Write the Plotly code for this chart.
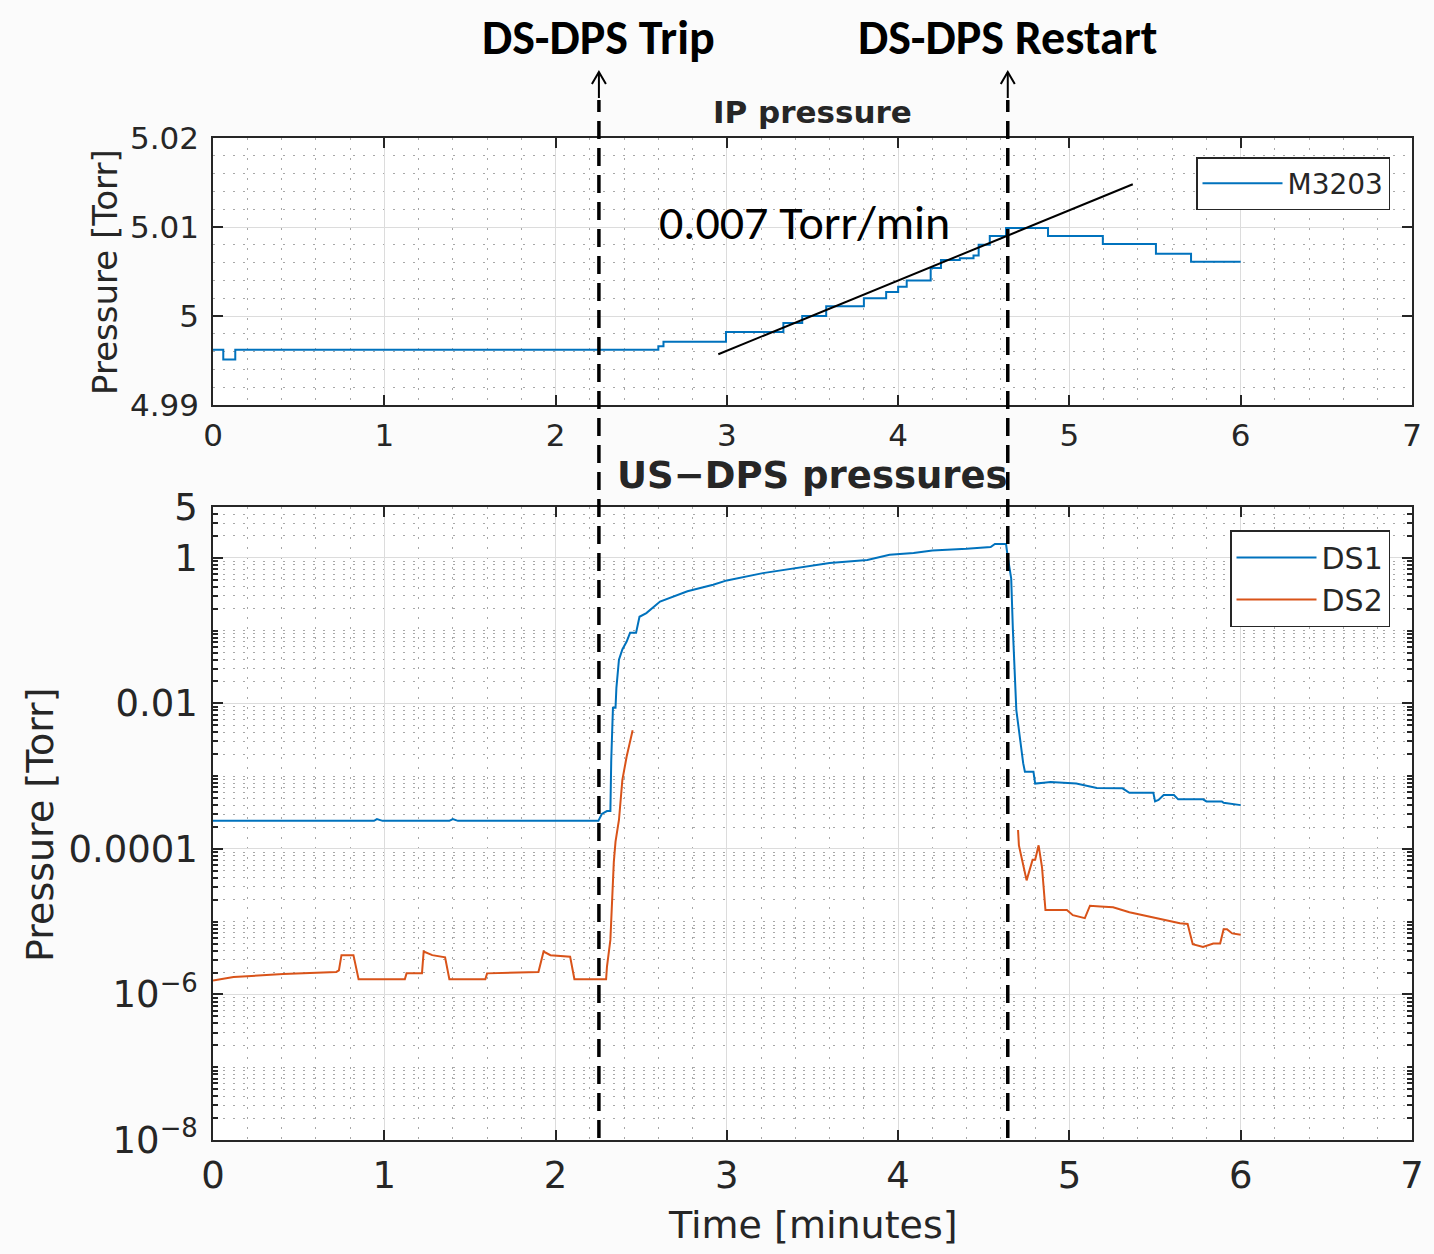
import plotly.graph_objects as go

# ---------------- data ----------------
# IP pressure, M3203 (step changes: time [min], pressure [Torr])
ip_time = [0.00, 0.06, 0.13, 2.57, 2.60, 2.63, 2.995, 3.33, 3.44, 3.58, 3.80, 3.93, 4.00,
           4.05, 4.19, 4.25, 4.36, 4.44, 4.47, 4.535, 4.63, 4.875, 5.195, 5.505, 5.71, 6.00]
ip_pressure = [4.9962, 4.9951, 4.9962, 4.9962, 4.9966, 4.9971, 4.9982, 4.9992, 5.0000, 5.0011,
               5.0020, 5.0027, 5.0033, 5.0040, 5.0054, 5.0063, 5.0065, 5.0068, 5.0080, 5.0090,
               5.0099, 5.0090, 5.0081, 5.0070, 5.0061, 5.0061]

# US-DPS DS1
ds1_time = [0.00, 0.94, 0.957, 0.99, 1.38, 1.40, 1.43, 2.25, 2.27, 2.30, 2.32, 2.325, 2.335, 2.35,
            2.355, 2.37, 2.39, 2.415, 2.435, 2.47, 2.49, 2.53, 2.61, 2.72, 2.77, 2.92, 3.00, 3.21,
            3.41, 3.60, 3.82, 3.95, 4.09, 4.20, 4.40, 4.54, 4.565, 4.63, 4.64, 4.66, 4.67, 4.69,
            4.73, 4.74, 4.79, 4.80, 4.85, 4.89, 5.04, 5.16, 5.31, 5.35, 5.49, 5.50, 5.52, 5.55,
            5.61, 5.635, 5.78, 5.80, 5.89, 5.90, 6.00]
ds1_pressure = [2.43e-4, 2.43e-4, 2.57e-4, 2.43e-4, 2.43e-4, 2.57e-4, 2.43e-4, 2.43e-4, 3.02e-4,
                3.31e-4, 3.31e-4, 1.66e-3, 8.7e-3, 8.7e-3, 1.62e-2, 3.98e-2, 5.5e-2, 7.08e-2,
                9.33e-2, 9.33e-2, 0.155, 0.174, 0.251, 0.316, 0.347, 0.427, 0.49, 0.617, 0.724,
                0.851, 0.933, 1.10, 1.17, 1.26, 1.33, 1.41, 1.55, 1.55, 1.02, 0.525, 0.102, 8.1e-3,
                1.51e-3, 1.15e-3, 1.15e-3, 7.9e-4, 8.1e-4, 8.3e-4, 7.9e-4, 6.9e-4, 6.8e-4, 5.9e-4,
                5.9e-4, 4.5e-4, 4.7e-4, 5.5e-4, 5.5e-4, 4.8e-4, 4.8e-4, 4.5e-4, 4.5e-4, 4.3e-4,
                4.0e-4]

# US-DPS DS2 (None = no data while gauge off-range)
ds2_time = [0.00, 0.12, 0.41, 0.72, 0.735, 0.75, 0.82, 0.85, 1.12, 1.13, 1.22, 1.23, 1.28, 1.355,
            1.38, 1.59, 1.60, 1.90, 1.93, 1.97, 2.085, 2.11, 2.295, 2.30, 2.32, 2.33, 2.34, 2.35,
            2.37, 2.39, 2.415, 2.45, None,
            4.70, 4.705, 4.75, 4.785, 4.80, 4.82, 4.84, 4.86, 4.985, 5.02, 5.09, 5.12, 5.18, 5.255,
            5.35, 5.47, 5.55, 5.645, 5.69, 5.72, 5.78, 5.84, 5.88, 5.90, 5.92, 5.95, 6.00]
ds2_pressure = [1.55e-6, 1.74e-6, 1.91e-6, 2.04e-6, 2.14e-6, 3.47e-6, 3.47e-6, 1.62e-6, 1.62e-6,
                1.95e-6, 1.95e-6, 3.89e-6, 3.47e-6, 3.24e-6, 1.62e-6, 1.62e-6, 1.95e-6, 2.04e-6,
                3.89e-6, 3.47e-6, 3.31e-6, 1.62e-6, 1.62e-6, 2.40e-6, 5.62e-6, 2.0e-5, 6.6e-5,
                1.26e-4, 2.5e-4, 8.9e-4, 1.86e-3, 4.27e-3, None,
                1.82e-4, 1.12e-4, 3.7e-5, 7.1e-5, 7.1e-5, 1.12e-4, 5.6e-5, 1.45e-5, 1.45e-5,
                1.23e-5, 1.12e-5, 1.66e-5, 1.62e-5, 1.58e-5, 1.35e-5, 1.17e-5, 1.05e-5, 9.5e-6,
                9.3e-6, 4.9e-6, 4.5e-6, 5.0e-6, 5.0e-6, 7.9e-6, 7.9e-6, 6.9e-6, 6.6e-6]

# linear fit drawn over the IP pressure rise (0.007 Torr/min)
fit_time = [2.95, 5.37]
fit_pressure = [4.9957, 5.0148]

# events
trip_time = 2.253
restart_time = 4.64
event_labels = ["DS-DPS Trip", "DS-DPS Restart"]

# ticks
x_ticks = [0, 1, 2, 3, 4, 5, 6, 7]
ip_ticks = [4.99, 5.00, 5.01, 5.02]
ip_ticktext = ["4.99", "5", "5.01", "5.02"]
log_ticks = [1e-8, 1e-6, 1e-4, 1e-2, 1, 5]
log_ticktext = ["10<sup>\u22128</sup>", "10<sup>\u22126</sup>", "0.0001", "0.01", "1", "5"]

# ---------------- layout helpers ----------------
W, H = 1434, 1254
def px(x):
    return x / W
def py(y):
    return 1 - y / H

BLUE = "#0072BD"
ORANGE = "#D95319"
AX = "#262626"
FONT = "DejaVu Sans"
NARROW = "Carlito, Liberation Sans Narrow, Arial Narrow, Open Sans, sans-serif"
DOT = "2px,8px"
DOTC = "#a8a8a8"

minor_log = []
for e in range(-8, 1):
    for k in range(1, 10):
        if k == 1 and e % 2 == 0:
            continue
        v = k * 10 ** e
        if v <= 5:
            minor_log.append(v)

fig = go.Figure()

fig.add_trace(go.Scatter(x=ip_time, y=ip_pressure, mode="lines", line_shape="hv",
                         line=dict(color=BLUE, width=2), name="M3203",
                         xaxis="x", yaxis="y", legend="legend"))
fig.add_trace(go.Scatter(x=fit_time, y=fit_pressure, mode="lines",
                         line=dict(color="black", width=2), showlegend=False,
                         xaxis="x", yaxis="y", hoverinfo="skip"))
fig.add_trace(go.Scatter(x=ds1_time, y=ds1_pressure, mode="lines",
                         line=dict(color=BLUE, width=2), name="DS1",
                         xaxis="x2", yaxis="y2", legend="legend2"))
fig.add_trace(go.Scatter(x=ds2_time, y=ds2_pressure, mode="lines", connectgaps=False,
                         line=dict(color=ORANGE, width=2), name="DS2",
                         xaxis="x2", yaxis="y2", legend="legend2"))

xdom = [px(213), px(1412)]
common_axis = dict(showline=True, linecolor=AX, linewidth=1.5, mirror="ticks",
                   ticks="inside", ticklen=10, tickwidth=1.5, tickcolor=AX,
                   showgrid=True, gridcolor="#dcdcdc", gridwidth=1.3, zeroline=False,
                   automargin=False)

fig.update_layout(
    template="none",
    width=W, height=H,
    margin=dict(l=0, r=0, t=0, b=0, pad=0),
    paper_bgcolor="#fbfbfb", plot_bgcolor="white",
    font=dict(family=FONT, color=AX),
    xaxis=dict(domain=xdom, anchor="y", range=[0, 7], tickmode="array", tickvals=x_ticks,
               tickfont=dict(size=31, color=AX), ticklabelstandoff=2,
               minor=dict(dtick=0.2, tick0=0, showgrid=True, griddash=DOT,
                          gridcolor=DOTC, gridwidth=1),
               **common_axis),
    yaxis=dict(domain=[py(405), py(138)], anchor="x", range=[4.99, 5.02], tickmode="array",
               tickvals=ip_ticks, ticktext=ip_ticktext, tickfont=dict(size=31, color=AX),
               ticklabelstandoff=6,
               minor=dict(dtick=0.002, tick0=4.99, showgrid=True, griddash=DOT,
                          gridcolor=DOTC, gridwidth=1),
               **common_axis),
    xaxis2=dict(domain=xdom, anchor="y2", range=[0, 7], tickmode="array", tickvals=x_ticks,
                tickfont=dict(size=37, color=AX), ticklabelstandoff=2,
                minor=dict(dtick=0.2, tick0=0, showgrid=True, griddash=DOT,
                           gridcolor=DOTC, gridwidth=1),
                **common_axis),
    yaxis2=dict(domain=[py(1140), py(507)], anchor="x2", type="log", range=[-8, 0.69897],
                tickmode="array", tickvals=log_ticks, ticktext=log_ticktext,
                tickfont=dict(size=37, color=AX), ticklabelstandoff=6,
                minor=dict(tickmode="array", tickvals=minor_log, ticks="inside", ticklen=5,
                           tickcolor=AX, showgrid=True, griddash=DOT,
                           gridcolor=DOTC, gridwidth=1),
                **common_axis),
    legend=dict(x=px(1390), xanchor="right", y=py(157), yanchor="top", itemwidth=80,
                bgcolor="white", bordercolor=AX, borderwidth=1.5,
                font=dict(size=28, family=FONT, color=AX)),
    legend2=dict(x=px(1390), xanchor="right", y=py(530), yanchor="top", itemwidth=80,
                 bgcolor="white", bordercolor=AX, borderwidth=1.5,
                 font=dict(size=30, family=FONT, color=AX)),
)

ann = []
# event labels
for t, lab in zip([trip_time, restart_time], event_labels):
    ann.append(dict(x=t, xref="x", y=py(38), yref="paper", text=lab, showarrow=False,
                    xanchor="center", yanchor="middle",
                    font=dict(family=NARROW, size=48, color="black", weight="bold")))
ann += [
    dict(x=(xdom[0] + xdom[1]) / 2, y=py(112), xref="paper", yref="paper", text="IP pressure",
         showarrow=False, xanchor="center", yanchor="middle",
         font=dict(family=FONT, size=31, color=AX, weight="bold")),
    dict(x=(xdom[0] + xdom[1]) / 2, y=py(475), xref="paper", yref="paper",
         text="US\u2212DPS pressures", showarrow=False, xanchor="center", yanchor="middle",
         font=dict(family=FONT, size=37, color=AX, weight="bold")),
    dict(x=px(105), y=py(272), xref="paper", yref="paper", text="Pressure [Torr]",
         textangle=-90, showarrow=False, xanchor="center", yanchor="middle",
         font=dict(family=FONT, size=34, color=AX)),
    dict(x=px(40), y=py(825), xref="paper", yref="paper", text="Pressure [Torr]",
         textangle=-90, showarrow=False, xanchor="center", yanchor="middle",
         font=dict(family=FONT, size=38, color=AX)),
    dict(x=(xdom[0] + xdom[1]) / 2, y=py(1225), xref="paper", yref="paper",
         text="Time [minutes]", showarrow=False, xanchor="center", yanchor="middle",
         font=dict(family=FONT, size=38, color=AX)),
    dict(x=px(657), y=py(222), xref="paper", yref="paper", text="0.007 Torr/min",
         xanchor="left", yanchor="middle", showarrow=False,
         font=dict(family=NARROW, size=48, color="black")),
]
fig.update_layout(annotations=ann)

shapes = []
for t in [trip_time, restart_time]:
    shapes.append(dict(type="line", xref="x", yref="paper", x0=t, x1=t,
                       y0=py(1138), y1=py(100),
                       line=dict(color="black", width=3.5, dash="18px,9px")))
    shapes.append(dict(type="line", xref="x", yref="paper", x0=t, x1=t,
                       y0=py(98), y1=py(72), line=dict(color="black", width=2)))
    hw = 7 / 171.3
    shapes.append(dict(type="path", xref="x", yref="paper",
                       path=f"M {t - hw},{py(84)} L {t},{py(72)} L {t + hw},{py(84)}",
                       line=dict(color="black", width=2)))
fig.update_layout(shapes=shapes)

fig.write_html("out.html", config={"displayModeBar": False},
               post_script="document.body.style.margin='0px';document.body.style.overflow='hidden';")
